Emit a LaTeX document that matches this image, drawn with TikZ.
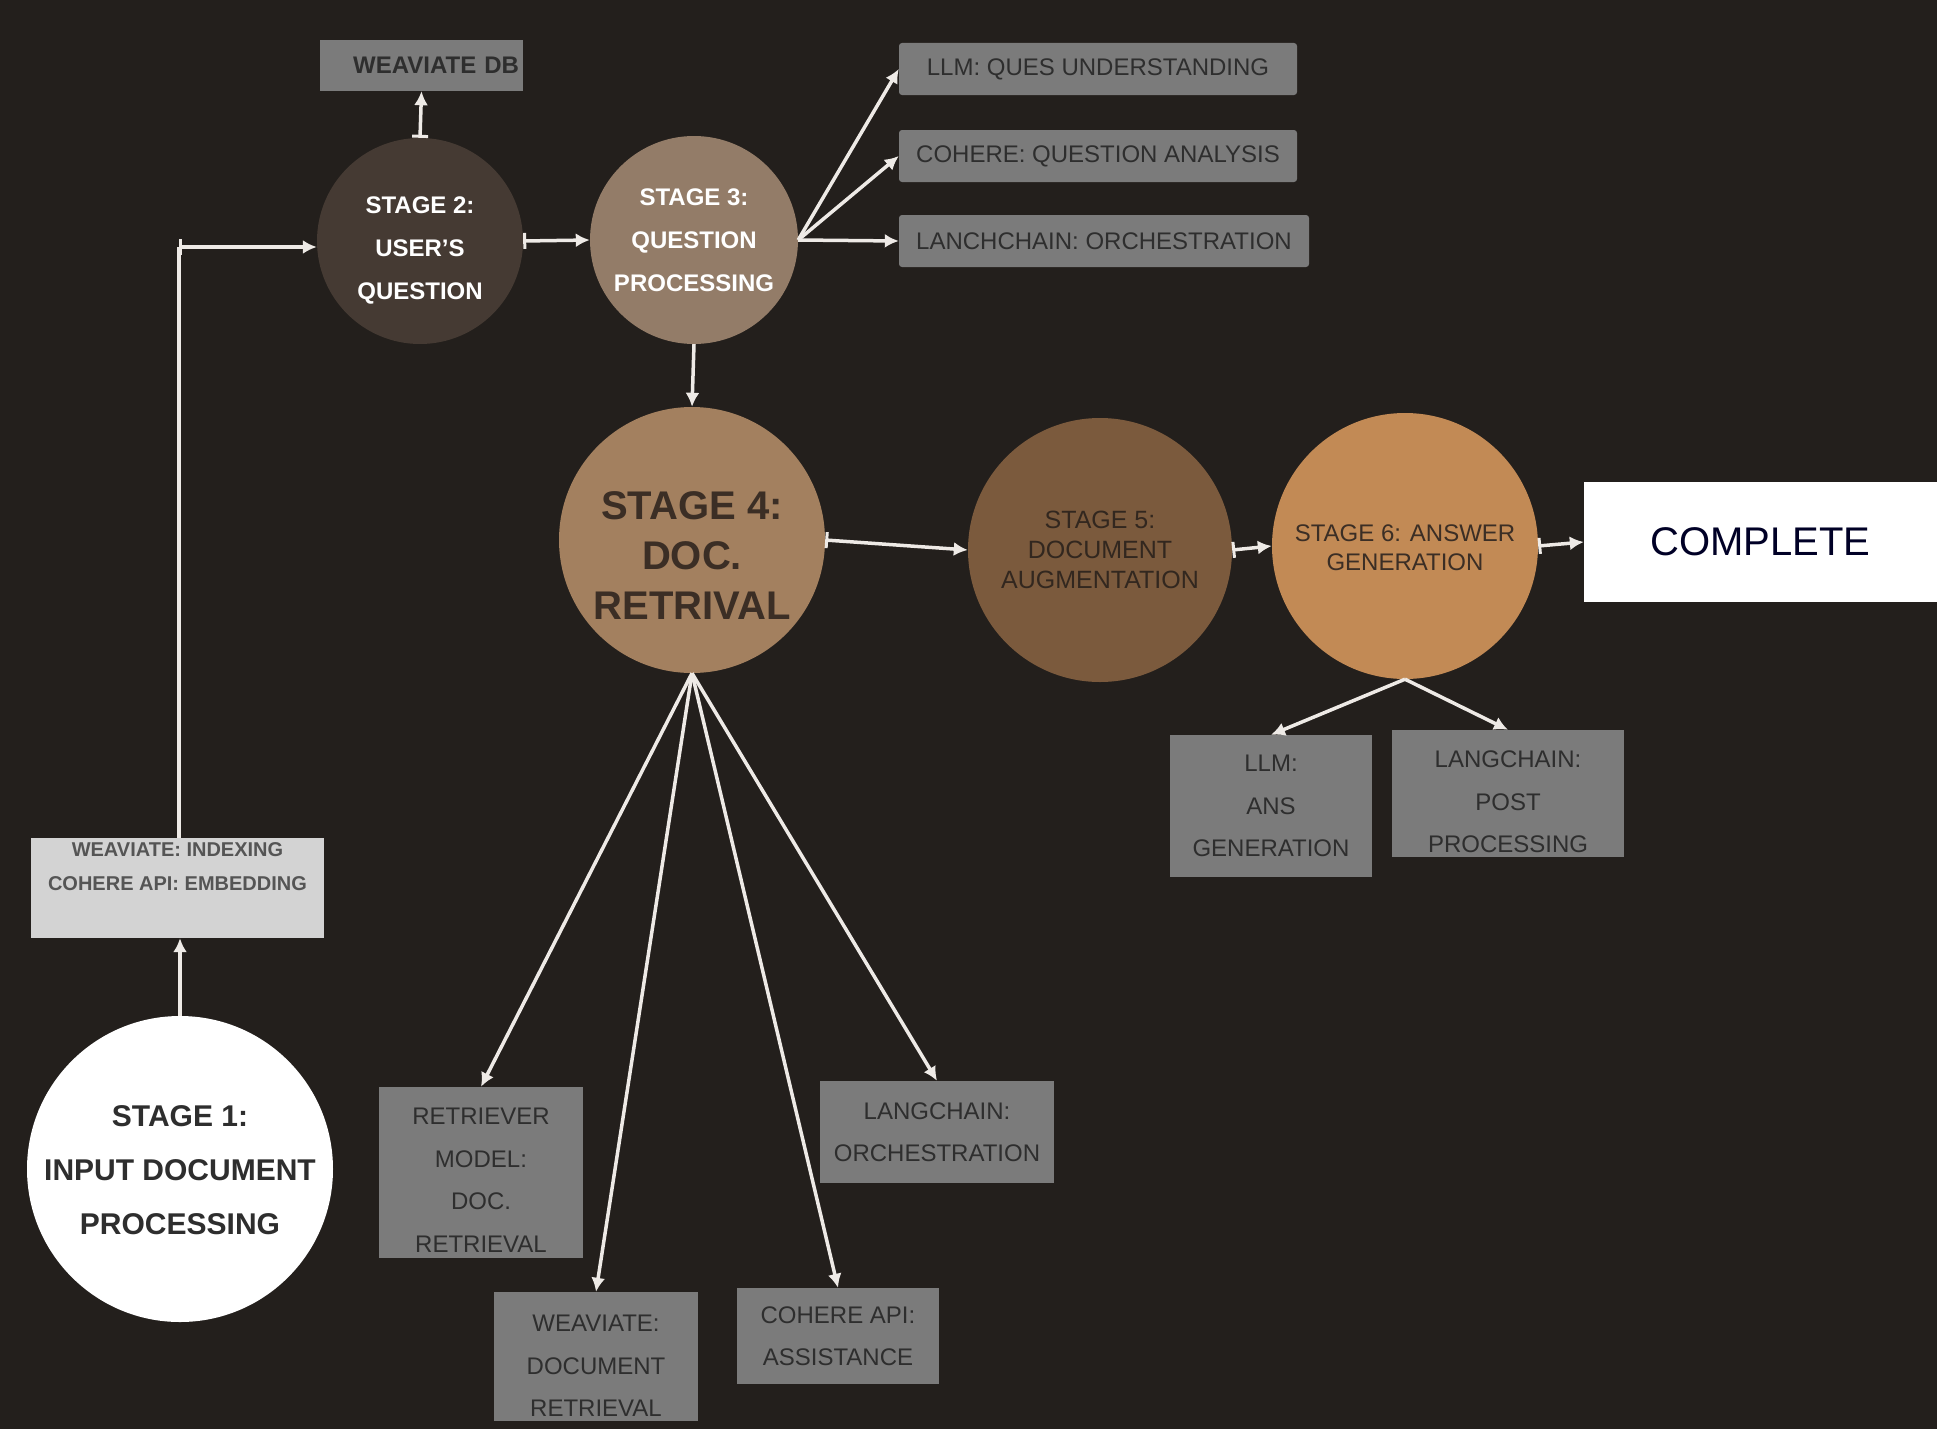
\documentclass[tikz,border=0pt]{standalone}
\usepackage{fontspec}
\setmainfont{Liberation Sans}
\usetikzlibrary{arrows.meta,calc}
\definecolor{bg}{HTML}{231F1C}
\definecolor{st2}{HTML}{453A33}
\definecolor{st3}{HTML}{937C68}
\definecolor{st4}{HTML}{A3805F}
\definecolor{st5}{HTML}{7B5A3D}
\definecolor{st6}{HTML}{C28A55}
\definecolor{boxgray}{HTML}{7B7B7B}
\definecolor{boxtxt}{HTML}{2E2E2E}
\definecolor{idxgray}{HTML}{D3D3D3}
\definecolor{idxtxt}{HTML}{555555}
\definecolor{arrowc}{HTML}{EEEAE6}
\definecolor{darktxt}{HTML}{3B2E25}
\begin{document}
\begin{tikzpicture}[x=1pt,y=-1pt,
  stage/.style={circle,inner sep=0pt,draw=none},
  gbox/.style={fill=boxgray,inner sep=0pt,align=center,text=boxtxt,font=\fontsize{24}{42.5}\selectfont},
  gtext/.style={align=center,text=boxtxt,inner sep=0pt,font=\fontsize{24}{42.5}\selectfont},
  topbox/.style={gbox,rounded corners=3pt,minimum height=52pt,font=\fontsize{24}{28}\selectfont},
  conn/.style={draw=arrowc,line width=3.5pt,-{Latex[length=14pt,width=14pt]}},
  barconn/.style={draw=arrowc,line width=3.5pt,{Bar[width=16pt,line width=3pt]}-{Latex[length=14pt,width=14pt]}},
  plain/.style={draw=arrowc,line width=3.5pt}
]
\fill[bg] (0,0) rectangle (1937,1429);
\useasboundingbox (0,0) rectangle (1937,1429);

% stages
\node[stage,fill=white,minimum size=306pt] (s1) at (180,1169) {};
\node[align=center,text=boxtxt,font=\fontsize{30}{54}\selectfont\bfseries] (s1t) at (180,1170) {STAGE 1:\\INPUT DOCUMENT\\PROCESSING};

\node[stage,fill=st2,minimum size=206pt] (s2) at (420,241) {};
\node[align=center,text=white,font=\fontsize{24}{43}\selectfont\bfseries] (s2t) at (420,250) {STAGE 2:\\USER'S\\QUESTION};

\node[stage,fill=st3,minimum size=208pt] (s3) at (694,240) {};
\node[align=center,text=white,font=\fontsize{24}{43}\selectfont\bfseries] (s3t) at (694,240) {STAGE 3:\\QUESTION\\PROCESSING};

\node[stage,fill=st4,minimum size=266pt] (s4) at (692,540) {};
\node[align=center,text=darktxt,font=\fontsize{40}{50}\selectfont\bfseries] (s4t) at (692,556) {STAGE 4:\\DOC.\\RETRIVAL};

\node[stage,fill=st5,minimum size=264pt] (s5) at (1100,550) {};
\node[align=center,text=darktxt!85!black,font=\fontsize{25}{30}\selectfont] (s5t) at (1100,550) {STAGE 5:\\DOCUMENT\\AUGMENTATION};

\node[stage,fill=st6,minimum size=266pt] (s6) at (1405,546) {};
\node[align=center,text=darktxt,font=\fontsize{24}{29}\selectfont] (s6t) at (1405,548) {STAGE 6: ANSWER\\GENERATION};

\node[fill=white,minimum width=353pt,minimum height=120pt,inner sep=0pt,text=black!85!blue,font=\fontsize{40}{48}\selectfont] (done) at (1760.5,542) {COMPLETE};

% boxes
\node[gbox,text width=195pt,inner xsep=4pt,minimum height=51pt,align=right,font=\fontsize{24}{28}\selectfont\bfseries] (db) at (421.5,65.5) {WEAVIATE DB};
\node[topbox,minimum width=398pt] (q1) at (1098,69) {LLM: QUES UNDERSTANDING};
\node[topbox,minimum width=398pt] (q2) at (1098,156) {COHERE: QUESTION ANALYSIS};
\node[topbox,minimum width=410pt] (q3) at (1104,241) {LANCHCHAIN: ORCHESTRATION};

\node[fill=idxgray,minimum width=293pt,minimum height=100pt,inner sep=0pt] (idx) at (177.5,888) {};
\node[align=center,text=idxtxt,font=\fontsize{20}{34}\selectfont\bfseries] (idxt) at (177.5,867) {WEAVIATE: INDEXING\\COHERE API: EMBEDDING};

\node[gbox,minimum width=204pt,minimum height=171pt] (r1) at (481,1172.5) {};
\node[gtext] (r1t) at (481,1180) {RETRIEVER\\MODEL:\\DOC.\\RETRIEVAL};
\node[gbox,minimum width=204pt,minimum height=129pt] (r2) at (596,1356.5) {};
\node[gtext] (r2t) at (596,1366) {WEAVIATE:\\DOCUMENT\\RETRIEVAL};
\node[gbox,minimum width=202pt,minimum height=96pt] (r3) at (838,1336) {COHERE API:\\ASSISTANCE};
\node[gbox,minimum width=234pt,minimum height=102pt] (r4) at (937,1132) {LANGCHAIN:\\ORCHESTRATION};

\node[gbox,minimum width=202pt,minimum height=142pt] (a1) at (1271,806) {LLM:\\ANS\\GENERATION};
\node[gbox,minimum width=232pt,minimum height=127pt] (a2) at (1508,793.5) {};
\node[gtext] (a2t) at (1508,802) {LANGCHAIN:\\POST\\PROCESSING};

% connectors
\coordinate (corner) at (179,247);
\draw[conn] (s1.north) -- (s1.north |- idx.south);
\draw[plain] (idx.north -| corner) -- (corner);
\draw[barconn] (corner) -- (corner -| s2.west);
\draw[barconn] (s2.north) -- (db.south);
\draw[barconn] (s2.east) -- (s3.west);
\draw[conn] (s3.east) -- (q1.west);
\draw[conn] (s3.east) -- (q2.west);
\draw[conn] (s3.east) -- (q3.west);
\draw[conn] (s3.south) -- (s4.north);
\draw[barconn] (s4.east) -- (s5.west);
\draw[barconn] (s5.east) -- (s6.west);
\draw[barconn] (s6.east) -- (done.west);
\draw[conn] (s4.south) -- (r1.north);
\draw[conn] (s4.south) -- (r2.north);
\draw[conn] (s4.south) -- (r3.north);
\draw[conn] (s4.south) -- (r4.north);
\draw[conn] (s6.south) -- (a1.north);
\draw[conn] (s6.south) -- (a2.north);
\end{tikzpicture}
\end{document}
